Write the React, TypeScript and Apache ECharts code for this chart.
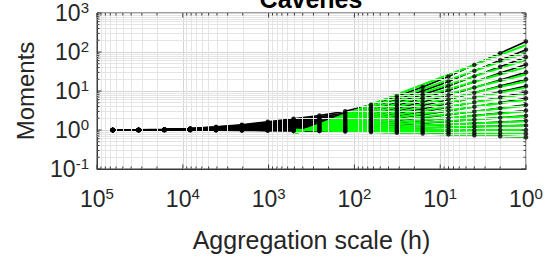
import React, { useEffect, useRef } from "react";
import * as echarts from "echarts";

// Aggregation scales (h), coarse to fine
const SCALES = [65536, 32768, 16384, 8192, 4096, 2048, 1024, 512, 256, 128, 64, 32, 16, 8, 4, 2, 1];

// Moment orders q (top curve to bottom curve)
const Q_ORDERS = [4.5, 4.25, 4.0, 3.75, 3.5, 3.25, 3.0, 2.75, 2.5, 2.25, 2.0, 1.75, 1.5, 1.25, 1.0, 0.75, 0.5];

// Normalised moments at each scale (same order as SCALES)
const M_Q450 = [1, 1.01, 1.035, 1.096, 1.202, 1.365, 1.622, 1.952, 2.344, 3.013, 4.459, 7.251, 12.62, 23.5, 46.85, 93.4, 186.2];
const M_Q425 = [1, 1.008, 1.032, 1.087, 1.182, 1.326, 1.551, 1.835, 2.167, 2.721, 3.884, 6.035, 9.98, 17.55, 32.83, 61.4, 114.8];
const M_Q400 = [1, 1.008, 1.029, 1.079, 1.164, 1.292, 1.489, 1.735, 2.018, 2.481, 3.425, 5.113, 8.07, 13.48, 23.78, 42.0, 74.1];
const M_Q375 = [1, 1.007, 1.026, 1.071, 1.146, 1.259, 1.43, 1.641, 1.878, 2.262, 3.023, 4.332, 6.53, 10.34, 17.24, 28.72, 47.9];
const M_Q350 = [1, 1.006, 1.023, 1.062, 1.127, 1.225, 1.37, 1.547, 1.742, 2.052, 2.65, 3.638, 5.223, 7.833, 12.29, 19.26, 30.2];
const M_Q325 = [1, 1.005, 1.02, 1.054, 1.111, 1.195, 1.319, 1.467, 1.629, 1.881, 2.353, 3.11, 4.271, 6.098, 9.05, 13.44, 19.95];
const M_Q300 = [1, 1.005, 1.017, 1.047, 1.096, 1.167, 1.272, 1.395, 1.528, 1.731, 2.104, 2.681, 3.532, 4.814, 6.786, 9.57, 13.49];
const M_Q275 = [1, 1.004, 1.015, 1.04, 1.081, 1.141, 1.228, 1.329, 1.436, 1.598, 1.888, 2.321, 2.938, 3.827, 5.131, 6.88, 9.226];
const M_Q250 = [1, 1.003, 1.012, 1.033, 1.068, 1.117, 1.188, 1.27, 1.355, 1.482, 1.705, 2.028, 2.472, 3.085, 3.947, 5.048, 6.457];
const M_Q225 = [1, 1.003, 1.01, 1.027, 1.054, 1.092, 1.147, 1.209, 1.274, 1.368, 1.529, 1.756, 2.055, 2.453, 2.984, 3.63, 4.416];
const M_Q200 = [1, 1.002, 1.008, 1.02, 1.041, 1.071, 1.112, 1.159, 1.206, 1.275, 1.39, 1.547, 1.748, 2.004, 2.333, 2.716, 3.162];
const M_Q175 = [1, 1.002, 1.006, 1.015, 1.03, 1.051, 1.081, 1.114, 1.147, 1.194, 1.272, 1.375, 1.503, 1.662, 1.856, 2.074, 2.317];
const M_Q150 = [1, 1.001, 1.004, 1.009, 1.019, 1.033, 1.051, 1.072, 1.092, 1.121, 1.166, 1.227, 1.299, 1.384, 1.486, 1.596, 1.714];
const M_Q125 = [1, 1.0, 1.002, 1.005, 1.01, 1.016, 1.025, 1.035, 1.045, 1.059, 1.081, 1.108, 1.141, 1.178, 1.221, 1.266, 1.312];
const M_Q100 = [1, 1, 1, 1, 1, 1, 1, 1, 1, 1, 1, 1, 1, 1, 1, 1, 1];
const M_Q075 = [1, 1.0, 0.999, 0.996, 0.992, 0.987, 0.98, 0.973, 0.965, 0.955, 0.94, 0.921, 0.9, 0.877, 0.853, 0.829, 0.805];
const M_Q050 = [1, 0.999, 0.997, 0.992, 0.985, 0.975, 0.961, 0.947, 0.933, 0.914, 0.885, 0.851, 0.813, 0.773, 0.731, 0.691, 0.653];

const MOMENTS = [M_Q450, M_Q425, M_Q400, M_Q375, M_Q350, M_Q325, M_Q300, M_Q275, M_Q250, M_Q225, M_Q200, M_Q175, M_Q150, M_Q125, M_Q100, M_Q075, M_Q050];

// Power-law fits (green): value at the coarse end and at the fine end of the fit range
const FIT_RANGE = [512, 1];
const FIT_AT_COARSE = [0.776, 0.795, 0.811, 0.829, 0.848, 0.865, 0.882, 0.898, 0.913, 0.93, 0.946, 0.96, 0.974, 0.987, 1.0, 1.011, 1.021];
const FIT_AT_FINE = [151, 95.0, 62.4, 41.0, 26.4, 17.7, 12.2, 8.44, 5.99, 4.16, 3.02, 2.24, 1.677, 1.298, 1.0, 0.812, 0.664];

// Axis decades and minor multiples
const X_DECADES = [1, 10, 100, 1000, 10000];
const Y_DECADES = [0.1, 1, 10, 100];
const X_MAJOR = [1, 10, 100, 1000, 10000, 100000];
const Y_MAJOR = [0.1, 1, 10, 100, 1000];
const MINOR_MULTS = [2, 3, 4, 5, 6, 7, 8, 9];
const X_RANGE = [1, 100000];
const Y_RANGE = [0.1, 1000];

const FONT = "'Liberation Sans', Arial, Helvetica, sans-serif";
const TEXT = "#262626";
const AXIS = "#3a3a3a";

function pow10Label(v: number) {
  const e = Math.round(Math.log10(v));
  return "{b|10}{s|" + e + "}";
}

export default function App() {
  const ref = useRef<HTMLDivElement>(null);
  useEffect(() => {
    if (!ref.current) return;
    const chart = echarts.init(ref.current, undefined, { renderer: "svg" });

    const xMinorVals: number[] = [];
    X_DECADES.forEach((d) => MINOR_MULTS.forEach((m) => xMinorVals.push(d * m)));
    const yMinorVals: number[] = [];
    Y_DECADES.forEach((d) => MINOR_MULTS.forEach((m) => yMinorVals.push(d * m)));

    // tick items: [value, isMajor(1/0), axis(0=x,1=y)]
    const tickItems: number[][] = [];
    X_MAJOR.forEach((v) => tickItems.push([v, 1, 0]));
    xMinorVals.forEach((v) => tickItems.push([v, 0, 0]));
    Y_MAJOR.forEach((v) => tickItems.push([v, 1, 1]));
    yMinorVals.forEach((v) => tickItems.push([v, 0, 1]));

    const series: any[] = [
      {
        type: "line",
        data: [[100000, 1]],
        symbol: "none",
        lineStyle: { opacity: 0 },
        z: 1,
        silent: true,
        markLine: {
          silent: true,
          symbol: ["none", "none"],
          label: { show: false },
          lineStyle: { color: "#e4e4e4", width: 1, type: "solid" },
          data: [...xMinorVals.map((v) => ({ xAxis: v })), ...yMinorVals.map((v) => ({ yAxis: v }))],
        },
      },
      {
        type: "custom",
        z: 6,
        silent: true,
        clip: false,
        data: tickItems.map((t) => [t[2] === 0 ? t[0] : 1, t[2] === 1 ? t[0] : 1, t[1], t[2]]),
        encode: { x: 0, y: 1 },
        renderItem: (params: any, api: any) => {
          const isMajor = api.value(2) === 1;
          const axis = api.value(3);
          const len = isMajor ? 4.5 : 2.5;
          const st = { stroke: AXIS, lineWidth: 1 };
          if (axis === 0) {
            const v = api.value(0);
            const b = api.coord([v, Y_RANGE[0]]);
            const t = api.coord([v, Y_RANGE[1]]);
            return {
              type: "group",
              children: [
                { type: "line", shape: { x1: b[0], y1: b[1], x2: b[0], y2: b[1] - len }, style: st },
                { type: "line", shape: { x1: t[0], y1: t[1], x2: t[0], y2: t[1] + len }, style: st },
              ],
            };
          }
          const v = api.value(1);
          const l = api.coord([X_RANGE[1], v]);
          const r = api.coord([X_RANGE[0], v]);
          return {
            type: "group",
            children: [
              { type: "line", shape: { x1: l[0], y1: l[1], x2: l[0] + len, y2: l[1] }, style: st },
              { type: "line", shape: { x1: r[0], y1: r[1], x2: r[0] - len, y2: r[1] }, style: st },
            ],
          };
        },
      },
    ];

    // black measured curves (lines)
    Q_ORDERS.forEach((q, i) => {
      series.push({
        name: "q=" + q,
        type: "line",
        z: 3,
        data: SCALES.map((s, j) => [s, MOMENTS[i][j]]),
        symbol: "none",
        lineStyle: { color: "#000", width: 1.6 },
      });
    });
    // green fits
    Q_ORDERS.forEach((q, i) => {
      series.push({
        name: "fit q=" + q,
        type: "line",
        z: 4,
        data: [
          [FIT_RANGE[0], FIT_AT_COARSE[i]],
          [FIT_RANGE[1], FIT_AT_FINE[i]],
        ],
        symbol: "none",
        lineStyle: { color: "#00ff00", width: 2 },
      });
    });
    // black markers on top
    Q_ORDERS.forEach((q, i) => {
      series.push({
        name: "pts q=" + q,
        type: "scatter",
        z: 5,
        data: SCALES.map((s, j) => [s, MOMENTS[i][j]]),
        symbol: "circle",
        symbolSize: 4.5,
        itemStyle: { color: "#000" },
      });
    });

    const richLabel = {
      b: { fontSize: 23, fontFamily: FONT, color: TEXT },
      s: { fontSize: 15, fontFamily: FONT, color: TEXT, padding: [0, 0, 11, 0] },
    };

    chart.setOption({
      animation: false,
      backgroundColor: "#fff",
      grid: {
        left: 97,
        right: 21,
        top: 12,
        bottom: 83,
        show: true,
        borderColor: AXIS,
        borderWidth: 1,
      },
      graphic: [
        {
          type: "text",
          x: 311,
          y: -1,
          style: {
            text: "Cavenes",
            textAlign: "center",
            textVerticalAlign: "middle",
            font: "bold 25px " + FONT,
            fill: "#000",
          },
        },
      ],
      xAxis: {
        type: "log",
        logBase: 10,
        min: X_RANGE[0],
        max: X_RANGE[1],
        inverse: true,
        name: "Aggregation scale (h)",
        nameLocation: "middle",
        nameGap: 58,
        nameTextStyle: { fontSize: 25, fontFamily: FONT, color: TEXT },
        axisLine: { show: true, lineStyle: { color: AXIS, width: 1 } },
        axisTick: { show: false },
        axisLabel: { formatter: pow10Label, rich: richLabel, margin: 17 },
        splitLine: { show: true, lineStyle: { color: "#d4d4d4", width: 1 } },
      },
      yAxis: {
        type: "log",
        logBase: 10,
        min: Y_RANGE[0],
        max: Y_RANGE[1],
        name: "Moments",
        nameLocation: "middle",
        nameGap: 60,
        nameTextStyle: { fontSize: 24, fontFamily: FONT, color: TEXT },
        axisLine: { show: true, lineStyle: { color: AXIS, width: 1 } },
        axisTick: { show: false },
        axisLabel: { formatter: pow10Label, rich: richLabel, margin: 8 },
        splitLine: { show: true, lineStyle: { color: "#d4d4d4", width: 1 } },
      },
      series,
    });

    return () => chart.dispose();
  }, []);

  return <div ref={ref} style={{ position: "absolute", left: 0, top: 0, width: 547, height: 257 }} />;
}
